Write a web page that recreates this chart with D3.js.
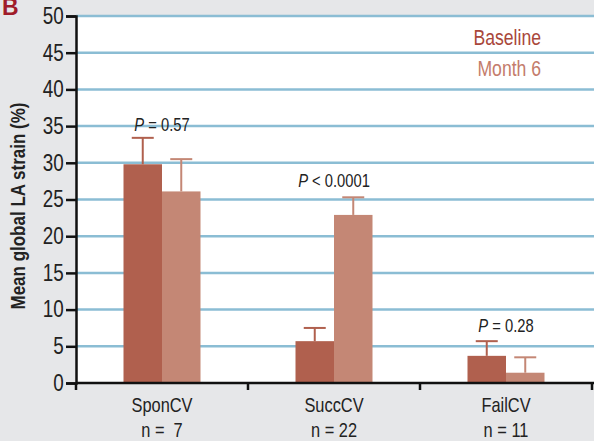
<!DOCTYPE html>
<html>
<head>
<meta charset="utf-8">
<script src="https://cdn.jsdelivr.net/npm/d3@7"></script>
<style>
  body { margin: 0; background: #e6e7e9; }
  text { font-family: "Liberation Sans", Arial, sans-serif; }
</style>
</head>
<body>
<script>
const width = 594;
const height = 441;

const groups = ['SponCV', 'SuccCV', 'FailCV'];
const nLabels = ['n =  7', 'n = 22', 'n = 11'];
const series = ['Baseline', 'Month 6'];
const baseline = [29.8, 5.7, 3.7];
const baselineErr = [33.4, 7.5, 5.7];
const month6 = [26.1, 22.9, 1.4];
const month6Err = [30.5, 25.3, 3.5];
const pLabels = ['= 0.57', '< 0.0001', '= 0.28'];
const yTicks = [0, 5, 10, 15, 20, 25, 30, 35, 40, 45, 50];

const colors = ['#b0604e', '#c48775'];
const textColors = ['#a9473b', '#c47c6b'];

const margin = {top: 16, right: 0, bottom: 58, left: 76};
const squeeze = 0.82; // the original type is a condensed sans

const svg = d3.select('body').append('svg').attr('width', width).attr('height', height);

const x = d3.scaleBand().domain(groups).range([margin.left, 592]);
const y = d3.scaleLinear().domain([0, 50]).range([height - margin.bottom, margin.top]);
const barW = 38.5;

// condensed text helper
function label(px, py, size, txt, opts = {}) {
    const t = svg.append('text')
        .attr('transform', `translate(${px},${py}) scale(${opts.sx || squeeze},1)`)
        .attr('text-anchor', opts.anchor || 'middle')
        .attr('font-size', size)
        .attr('fill', opts.fill || '#222');
    if (opts.bold) t.attr('font-weight', 'bold');
    return t.text(txt);
}

// white plot area
svg.append('rect')
    .attr('x', margin.left).attr('y', y(50))
    .attr('width', width - margin.left).attr('height', y(0) - y(50))
    .attr('fill', '#fff');

// grid
svg.append('g').selectAll('line')
    .data(yTicks.filter(d => d > 0))
    .enter().append('line')
    .attr('x1', margin.left).attr('x2', width)
    .attr('y1', d => y(d)).attr('y2', d => y(d))
    .attr('stroke', '#8bbdd4').attr('stroke-width', 2.5);

// bars
const rows = groups.map((g, i) => ({g, i, vals: [baseline[i], month6[i]], errs: [baselineErr[i], month6Err[i]]}));

rows.forEach(r => {
    r.vals.forEach((v, j) => {
        const cx = x(r.g) + x.bandwidth() / 2;
        const bx = cx - barW + j * barW;
        svg.append('rect')
            .attr('x', bx).attr('y', y(v))
            .attr('width', barW).attr('height', y(0) - y(v))
            .attr('fill', colors[j]);
        // error bar
        const ex = bx + barW / 2;
        svg.append('line')
            .attr('x1', ex).attr('x2', ex)
            .attr('y1', y(v)).attr('y2', y(r.errs[j]))
            .attr('stroke', colors[j]).attr('stroke-width', 2);
        svg.append('line')
            .attr('x1', ex - 11).attr('x2', ex + 11)
            .attr('y1', y(r.errs[j])).attr('y2', y(r.errs[j]))
            .attr('stroke', colors[j]).attr('stroke-width', 2);
    });
});

// P labels
const pGap = [7, 10, 9];
rows.forEach(r => {
    const t = label(x(r.g) + x.bandwidth() / 2, y(Math.max(...r.errs)) - pGap[r.i], 18, '');
    t.append('tspan').attr('font-style', 'italic').text('P');
    t.append('tspan').text(' ' + pLabels[r.i]);
});

// y axis
const yAxis = svg.append('g')
    .attr('transform', `translate(${margin.left},0)`)
    .call(d3.axisLeft(y).tickValues(yTicks).tickSize(10).tickPadding(5));
yAxis.select('.domain').attr('stroke', '#111').attr('stroke-width', 2.5);
yAxis.selectAll('.tick line').attr('stroke', '#111').attr('stroke-width', 2.5);
yAxis.selectAll('.tick text').attr('font-size', 23).attr('fill', '#222')
    .attr('transform', `scale(${squeeze},1)`)
    .style('font-family', '"Liberation Sans", Arial, sans-serif');

// x axis
const xAxis = svg.append('g')
    .attr('transform', `translate(0,${y(0)})`)
    .call(d3.axisBottom(x).tickValues([]).tickSizeOuter(0));
xAxis.select('.domain').attr('stroke', '#111').attr('stroke-width', 2.5)
    .attr('d', `M${margin.left},0H${width}`);
const boundaries = [margin.left].concat(groups.map(g => x(g) + x.bandwidth()));
xAxis.selectAll('.sep').data(boundaries).enter().append('line')
    .attr('x1', d => d).attr('x2', d => d)
    .attr('y1', 0).attr('y2', 7)
    .attr('stroke', '#111').attr('stroke-width', 2.5);

groups.forEach((g, i) => {
    const cx = x(g) + x.bandwidth() / 2;
    label(cx, y(0) + 29, 20, g);
    label(cx, y(0) + 54, 20, nLabels[i]).attr('xml:space', 'preserve').style('white-space', 'pre');
});

// y label
svg.append('text')
    .attr('transform', `translate(25,206) rotate(-90) scale(0.85,1)`)
    .attr('text-anchor', 'middle')
    .attr('font-size', 20).attr('font-weight', 'bold').attr('fill', '#222')
    .text('Mean global LA strain (%)');

// legend
series.forEach((s, i) => {
    label(541, 45 + i * 31, 22, s, {anchor: 'end', fill: textColors[i], sx: 0.8});
});

// panel letter
svg.append('text')
    .attr('x', 2).attr('y', 15)
    .attr('font-size', 23).attr('font-weight', 'bold')
    .attr('fill', '#a01c2a')
    .text('B');
</script>
</body>
</html>
